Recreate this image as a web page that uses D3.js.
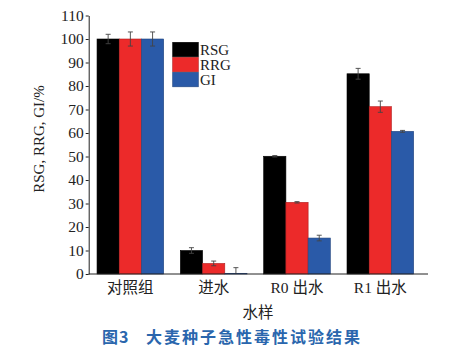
<!DOCTYPE html>
<html>
<head>
<meta charset="utf-8">
<script src="https://cdn.jsdelivr.net/npm/d3@7"></script>
<style>
  body { margin: 0; background: #fff; }
  svg text { font-family: "Liberation Serif", "Noto Sans CJK SC", serif; fill: #222; }
</style>
</head>
<body>
<div id="chart"></div>
<script>
// 样本与指标
const samples = ["对照组", "进水", "R0出水", "R1出水"];
const sampleLabels = ["对照组", "进水", "R0 出水", "R1 出水"];
const series = ["RSG", "RRG", "GI"];
const colors = ["#000000", "#ec2a2a", "#2a5aa8"];
const rsg = [100, 10, 50.1, 85.2];
const rrg = [100, 4.5, 30.5, 71.2];
const gi = [100, 0.3, 15.3, 60.7];
const rsgErr = [2, 1.2, 0.3, 2.3];
const rrgErr = [3, 1, 0.3, 2.4];
const giErr = [3, 2.4, 1.2, 0.4];
const yTicks = [0, 10, 20, 30, 40, 50, 60, 70, 80, 90, 100, 110];

const values = [rsg, rrg, gi];
const errs = [rsgErr, rrgErr, giErr];

const W = 458, H = 353;
const svg = d3.select("#chart").append("svg")
    .attr("width", W).attr("height", H);

// 比例尺
const x = d3.scaleBand().domain(samples).range([88.7, 422]).paddingInner(0.2).paddingOuter(0.1);
const xs = d3.scaleBand().domain(series).range([0, x.bandwidth()]);
const y = d3.scaleLinear().domain([0, 110]).range([274, 15.5]);

// 柱子
series.forEach((s, i) => {
    svg.append("g").selectAll("rect")
        .data(samples.map((c, j) => ({ c, v: values[i][j], e: errs[i][j] })))
        .join("rect")
        .attr("x", d => x(d.c) + xs(s))
        .attr("y", d => y(d.v))
        .attr("width", xs.bandwidth())
        .attr("height", d => y(0) - y(d.v))
        .attr("fill", colors[i])
        .attr("stroke", d3.color(colors[i]).darker(0.8))
        .attr("stroke-width", 0.6);
});

// 误差线
series.forEach((s, i) => {
    const g = svg.append("g").attr("stroke", "#444").attr("stroke-width", 0.9);
    samples.forEach((c, j) => {
        const cx = x(c) + xs(s) + xs.bandwidth() / 2;
        const v = values[i][j], e = errs[i][j];
        const top = y(v + e), bot = y(Math.max(0, v - e));
        g.append("line").attr("x1", cx).attr("x2", cx).attr("y1", top).attr("y2", bot);
        g.append("line").attr("x1", cx - 2.5).attr("x2", cx + 2.5).attr("y1", top).attr("y2", top);
        if (v - e > 0)
            g.append("line").attr("x1", cx - 2.5).attr("x2", cx + 2.5).attr("y1", bot).attr("y2", bot);
    });
});

// 坐标轴
const yAxis = svg.append("g")
    .attr("transform", "translate(88.7,0)")
    .call(d3.axisLeft(y).tickValues(yTicks).tickSize(3).tickSizeOuter(0));
yAxis.select(".domain").attr("stroke", "#222");
yAxis.selectAll(".tick line").attr("stroke", "#222");
yAxis.selectAll("text").style("font-size", "15.5px").attr("x", -5).attr("fill", "#222");

svg.append("line")
    .attr("x1", 88.7).attr("x2", 428).attr("y1", y(0)).attr("y2", y(0))
    .attr("stroke", "#222").attr("stroke-width", 1);

svg.append("g").selectAll("text")
    .data(samples)
    .join("text")
    .attr("x", d => x(d) + x.bandwidth() / 2)
    .attr("y", 293)
    .attr("text-anchor", "middle")
    .style("font-size", "15.5px")
    .text((d, i) => sampleLabels[i]);

// 轴标题
svg.append("text")
    .attr("x", 258).attr("y", 318)
    .attr("text-anchor", "middle")
    .style("font-size", "15.5px")
    .text("水样");

svg.append("text")
    .attr("transform", "translate(44,139) rotate(-90)")
    .attr("text-anchor", "middle")
    .style("font-size", "15px")
    .text("RSG, RRG, GI/%");

// 图例
const legend = svg.append("g");
series.forEach((s, i) => {
    legend.append("rect")
        .attr("x", 172.7).attr("y", 42.3 + i * 15)
        .attr("width", 25.6).attr("height", 14.5)
        .attr("fill", colors[i])
        .attr("stroke", d3.color(colors[i]).darker(0.8))
        .attr("stroke-width", 0.6);
    legend.append("text")
        .attr("x", 200).attr("y", 55 + i * 15)
        .style("font-size", "15px")
        .text(s);
});

// 图题
const titleStyle = sel => sel
    .style("font-family", "'Noto Sans CJK SC', sans-serif")
    .style("font-size", "16px")
    .style("font-weight", "bold")
    .style("fill", "#2a66ad");
svg.append("text")
    .attr("x", 102).attr("y", 343)
    .call(titleStyle)
    .style("letter-spacing", "1px")
    .text("图3");
svg.append("text")
    .attr("x", 146).attr("y", 343)
    .call(titleStyle)
    .style("letter-spacing", "2px")
    .text("大麦种子急性毒性试验结果");
</script>
</body>
</html>
